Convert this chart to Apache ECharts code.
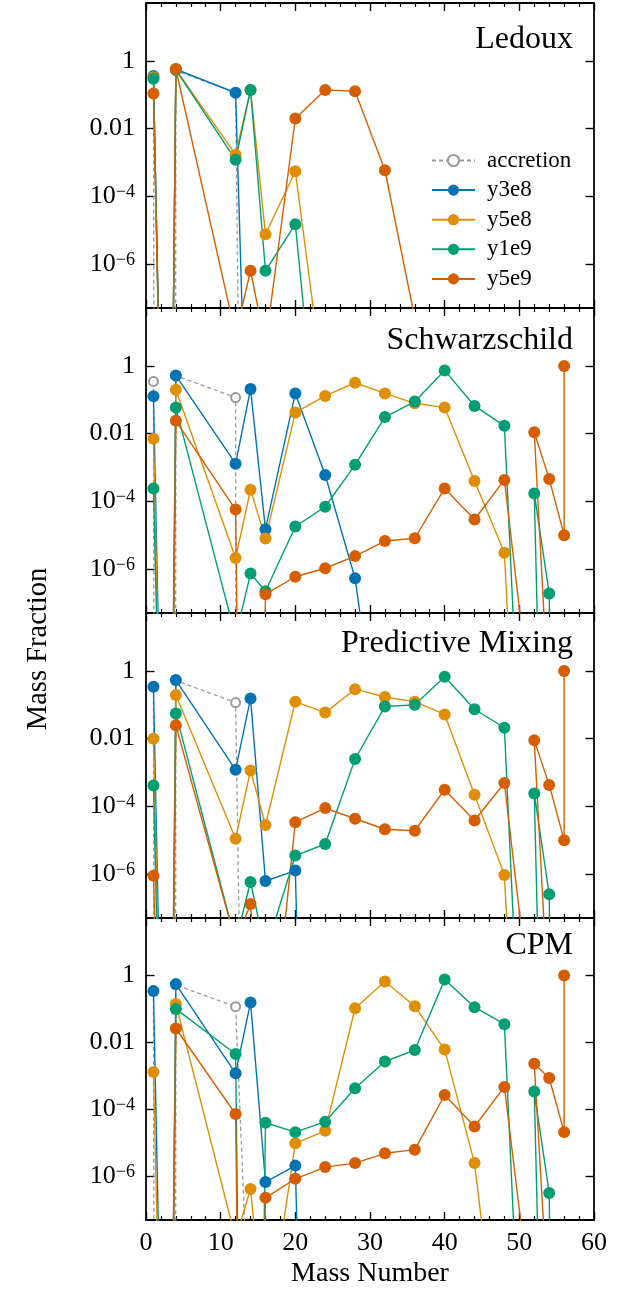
<!DOCTYPE html>
<html>
<head>
<meta charset="utf-8">
<title>Mass Fraction vs Mass Number</title>
<script src="https://cdn.jsdelivr.net/npm/echarts@6/dist/echarts.min.js"></script>
<style>
  html, body { margin: 0; padding: 0; background: #fff; }
  #chart { width: 627px; height: 1289px; }
</style>
</head>
<body>
<div id="chart"></div>
<script>
// Isotopes of the approx network, in network order (sorted by Z, then A)
const isotopes = ['h1', 'he3', 'he4', 'c12', 'n14', 'o16', 'ne20', 'mg24', 'si28', 's32',
                  'ar36', 'ca40', 'ti44', 'cr48', 'cr56', 'fe52', 'fe54', 'fe56', 'ni56'];
const massNumbers = [1, 3, 4, 12, 14, 16, 20, 24, 28, 32, 36, 40, 44, 48, 56, 52, 54, 56, 56];

const panelTitles = ['Ledoux', 'Schwarzschild', 'Predictive Mixing', 'CPM'];
const seriesNames = ['accretion', 'y3e8', 'y5e8', 'y1e9', 'y5e9'];
const yTickValues = [1e-6, 1e-4, 1e-2, 1];
const xTickLabels = [0, 10, 20, 30, 40, 50, 60];

// Ledoux
const ledouxAccretion = [0.35, 0, 0.52, 0.115, 1e-40, 0, 0, 0, 0, 0, 0, 0, 0, 0, 0, 0, 0, 0, 0];
const ledouxY3e8 = [0.36, 1e-22, 0.57, 0.115, 2e-16, 1e-20, 1e-22, 1e-24, 1e-25, 1e-26, 1e-27, 1e-28, 1e-29, 1e-30, 1e-35, 1e-32, 1e-33, 1e-34, 1e-35];
const ledouxY5e8 = [0.33, 1e-22, 0.56, 1.7e-3, 0.14, 7.6e-6, 5.5e-4, 1e-10, 1e-13, 1e-15, 1e-17, 1e-19, 1e-21, 1e-23, 1e-30, 1e-25, 1e-26, 1e-27, 1e-28];
const ledouxY1e9 = [0.30, 1e-22, 0.55, 1.2e-3, 0.14, 6.3e-7, 1.5e-5, 1.6e-14, 1e-16, 1e-18, 1e-20, 1e-21, 1e-22, 1e-23, 1e-30, 1e-25, 1e-26, 1e-27, 1e-28];
const ledouxY5e9 = [0.11, 1e-22, 0.58, 8e-9, 6.3e-7, 4e-9, 0.02, 0.14, 0.127, 5.9e-4, 2.5e-8, 1e-10, 1e-12, 1e-13, 1e-20, 1e-15, 1e-16, 1e-17, 1e-16];

// Schwarzschild
const schwAccretion = [0.35, 0, 0.52, 0.117, 0, 0, 0, 0, 0, 0, 0, 0, 0, 0, 0, 0, 0, 0, 0];
const schwY3e8 = [0.127, 1e-22, 0.52, 1.3e-3, 0.21, 1.5e-5, 0.155, 6e-4, 5.3e-7, 3e-13, 1e-18, 1e-20, 1e-22, 1e-24, 1e-30, 1e-26, 1e-27, 1e-28, 1e-28];
const schwY5e8 = [7.1e-3, 1e-22, 0.2, 2.1e-6, 2.2e-4, 7.9e-6, 0.042, 0.13, 0.32, 0.155, 0.079, 0.059, 4e-4, 3e-6, 1e-40, 1e-30, 1e-31, 1e-32, 1e-32];
const schwY1e9 = [2.4e-4, 1e-22, 0.059, 1e-8, 7.3e-7, 2.2e-7, 1.8e-5, 6.9e-5, 1.2e-3, 0.031, 0.089, 0.74, 0.066, 0.017, 1e-40, 1.7e-4, 1.9e-7, 1e-40, 1e-40];
const schwY5e9 = [1e-15, 1e-22, 0.024, 5.7e-5, 1e-40, 1.8e-7, 5.9e-7, 1.05e-6, 2.4e-6, 6.7e-6, 8.1e-6, 2.4e-4, 2.9e-5, 4.3e-4, 3e-19, 0.011, 4.6e-4, 1.0e-5, 1.0];

// Predictive Mixing
const predAccretion = [0.35, 0, 0.52, 0.117, 1e-29, 0, 0, 0, 0, 0, 0, 0, 0, 0, 0, 0, 0, 0, 0];
const predY3e8 = [0.34, 1e-22, 0.54, 1.2e-3, 0.155, 6.2e-7, 1.26e-6, 1e-40, 1e-40, 1e-40, 1e-40, 1e-40, 1e-40, 1e-40, 1e-40, 1e-40, 1e-40, 1e-40, 1e-40];
const predY5e8 = [0.01, 1e-22, 0.195, 1.1e-5, 1.15e-3, 2.8e-5, 0.124, 0.059, 0.29, 0.17, 0.124, 0.052, 2.2e-4, 9.3e-7, 1e-40, 1e-30, 1e-31, 1e-32, 1e-32];
const predY1e9 = [4.1e-4, 1e-22, 0.055, 1e-8, 5.8e-7, 5.2e-9, 3.5e-6, 7.7e-6, 2.5e-3, 0.089, 0.1, 0.68, 0.074, 0.021, 1e-40, 2.4e-4, 2.5e-7, 1e-40, 1e-40];
const predY5e9 = [8.9e-7, 1e-22, 0.025, 1e-8, 1.3e-7, 1e-13, 3.4e-5, 8.9e-5, 4.3e-5, 2.1e-5, 1.9e-5, 3.1e-4, 3.8e-5, 4.9e-4, 3e-19, 8.9e-3, 4.3e-4, 1.0e-5, 1.0];

// CPM
const cpmAccretion = [0.35, 0, 0.52, 0.117, 3e-12, 0, 0, 0, 0, 0, 0, 0, 0, 0, 0, 0, 0, 0, 0];
const cpmY3e8 = [0.34, 1e-22, 0.55, 1.2e-3, 0.155, 6.8e-7, 2.1e-6, 1e-40, 1e-40, 1e-40, 1e-40, 1e-40, 1e-40, 1e-40, 1e-40, 1e-40, 1e-40, 1e-40, 1e-40];
const cpmY5e8 = [1.3e-3, 1e-22, 0.14, 1.4e-8, 4.2e-7, 1e-11, 9.7e-6, 2.3e-5, 0.105, 0.66, 0.12, 6.1e-3, 2.5e-6, 1e-13, 1e-40, 1e-30, 1e-31, 1e-32, 1e-32];
const cpmY1e9 = [1e-20, 1e-22, 0.1, 4.5e-3, 1e-40, 4e-5, 2.1e-5, 4.3e-5, 4.3e-4, 2.7e-3, 5.9e-3, 0.76, 0.113, 0.035, 1e-40, 3.4e-4, 3.2e-7, 1e-40, 1e-40];
const cpmY5e9 = [1e-20, 1e-22, 0.026, 7.3e-5, 1e-40, 2.3e-7, 8.5e-7, 1.9e-6, 2.5e-6, 4.9e-6, 6.3e-6, 2.7e-4, 3.1e-5, 4.7e-4, 1e-18, 2.3e-3, 8.7e-4, 2.1e-5, 1.0];

const panelData = [
  [ledouxAccretion, ledouxY3e8, ledouxY5e8, ledouxY1e9, ledouxY5e9],
  [schwAccretion, schwY3e8, schwY5e8, schwY1e9, schwY5e9],
  [predAccretion, predY3e8, predY5e8, predY1e9, predY5e9],
  [cpmAccretion, cpmY3e8, cpmY5e8, cpmY1e9, cpmY5e9]
];

const colors = {
  accretion: '#9a9a9a',
  y3e8: '#0173b2',
  y5e8: '#de8f05',
  y1e9: '#029e73',
  y5e9: '#d55e00'
};

const FONT = '"Liberation Serif", "Times New Roman", serif';
const GRID_LEFT = 146, GRID_WIDTH = 448, GRID_TOP = 3, GRID_HEIGHT = 305;
const Y_MIN = 5e-8, Y_MAX = 51.8;

// zero abundances sit far below the axis floor on a log scale
const clipLog = v => (v > 0 ? v : 1e-300);

function yLabel(value) {
  const e = Math.round(Math.log10(value));
  if (e === 0) return '1';
  if (e === -2) return '0.01';
  return '{b|10}{s|\u2212' + (-e) + '}';
}

const grids = [], xAxes = [], yAxes = [], series = [], graphics = [];

panelTitles.forEach((title, p) => {
  const top = GRID_TOP + GRID_HEIGHT * p;
  grids.push({ left: GRID_LEFT, width: GRID_WIDTH, top: top, height: GRID_HEIGHT, containLabel: false });

  const xCommon = {
    gridIndex: p, type: 'value', min: 0, max: 60, interval: 10,
    axisLine: { show: true, onZero: false, lineStyle: { color: '#000', width: 1.8 } },
    axisTick: { show: true, inside: true, length: 8, lineStyle: { color: '#000', width: 1.4 } },
    minorTick: { show: true, splitNumber: 5, length: 4, lineStyle: { color: '#000', width: 1.2 } },
    splitLine: { show: false }, minorSplitLine: { show: false }
  };
  xAxes.push(Object.assign({}, xCommon, {
    position: 'bottom',
    axisLabel: {
      show: p === 3, margin: 10, color: '#000', fontFamily: FONT, fontSize: 26,
      customValues: xTickLabels
    },
    name: p === 3 ? 'Mass Number' : '',
    nameLocation: 'middle', nameGap: 40,
    nameTextStyle: { color: '#000', fontFamily: FONT, fontSize: 28 }
  }));
  xAxes.push(Object.assign({}, xCommon, { position: 'top', axisLabel: { show: false } }));

  const yCommon = {
    gridIndex: p, type: 'log', logBase: 10, min: Y_MIN, max: Y_MAX,
    axisLine: { show: true, onZero: false, lineStyle: { color: '#000', width: 1.8 } },
    axisTick: { show: true, inside: true, length: 8.5, customValues: yTickValues, lineStyle: { color: '#000', width: 1.4 } },
    minorTick: { show: false },
    splitLine: { show: false }, minorSplitLine: { show: false }
  };
  yAxes.push(Object.assign({}, yCommon, {
    position: 'left',
    axisLabel: {
      show: true, margin: 11, color: '#000', fontFamily: FONT, fontSize: 26,
      customValues: yTickValues,
      formatter: yLabel,
      rich: {
        b: { fontFamily: FONT, fontSize: 26, lineHeight: 26, color: '#000', verticalAlign: 'bottom' },
        s: { fontFamily: FONT, fontSize: 18, lineHeight: 14, color: '#000', verticalAlign: 'top', padding: [0, 0, 16, 0] }
      }
    }
  }));
  yAxes.push(Object.assign({}, yCommon, { position: 'right', axisLabel: { show: false } }));

  seriesNames.forEach((name, k) => {
    const values = panelData[p][k];
    const isAccretion = name === 'accretion';
    series.push({
      name: name,
      type: 'line',
      xAxisIndex: p * 2,
      yAxisIndex: p * 2,
      data: massNumbers.map((m, i) => [m, clipLog(values[i])]),
      clip: true,
      symbol: isAccretion ? 'emptyCircle' : 'circle',
      symbolSize: isAccretion ? 9 : 12,
      showSymbol: true,
      color: colors[name],
      itemStyle: isAccretion ? { color: colors[name], borderWidth: 2 } : { color: colors[name] },
      lineStyle: isAccretion
        ? { color: colors[name], width: 1.3, type: [4, 3] }
        : { color: colors[name], width: 1.4 },
      emphasis: { disabled: true },
      animation: false
    });
  });
});

// Panel titles, one per grid
const titleBaselines = [49.3, 350.7, 653.3, 955.7];
panelTitles.forEach((title, p) => {
  graphics.push({
    type: 'text', right: 627 - 573, top: titleBaselines[p] - 26,
    style: { text: title, fontFamily: FONT, fontSize: 32, fill: '#000' }
  });
});

// Shared y label for all panels
graphics.push({
  type: 'text', x: 39, y: 649, rotation: Math.PI / 2,
  style: { text: 'Mass Fraction', fontFamily: FONT, fontSize: 28.5, fill: '#000', align: 'center', verticalAlign: 'middle' }
});

const chart = echarts.init(document.getElementById('chart'), null, { renderer: 'canvas' });
chart.setOption({
  backgroundColor: '#fff',
  animation: false,
  grid: grids,
  xAxis: xAxes,
  yAxis: yAxes,
  legend: {
    data: seriesNames,
    orient: 'vertical',
    left: 426, top: 144,
    itemWidth: 43, itemHeight: 14, itemGap: 6.6,
    selectedMode: false,
    textStyle: { color: '#000', fontFamily: FONT, fontSize: 23, padding: [0, 0, 0, 7] }
  },
  series: series,
  graphic: graphics
});
</script>
</body>
</html>
